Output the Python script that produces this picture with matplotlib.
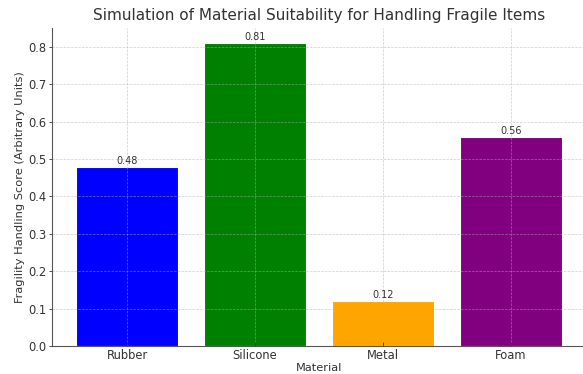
import matplotlib.pyplot as plt

materials = ['Rubber', 'Silicone', 'Metal', 'Foam']
scores = [0.48, 0.81, 0.12, 0.56]
colors = ['blue', 'green', 'orange', 'purple']

text_color = '#333333'
plt.rcParams['text.color'] = text_color
plt.rcParams['axes.labelcolor'] = text_color
plt.rcParams['xtick.color'] = text_color
plt.rcParams['ytick.color'] = text_color

fig = plt.figure(figsize=(5.83, 3.74), dpi=100)
ax = fig.add_axes([52 / 583, 28 / 374, 534 / 583, 318 / 374])

bars = ax.bar(materials, scores, color=colors, edgecolor='white', linewidth=0.8)
ax.set_axisbelow(False)
ax.grid(True, linestyle='--', linewidth=0.5, color='#b0b0b0', alpha=0.6)

for bar, s in zip(bars, scores):
    ax.text(bar.get_x() + bar.get_width() / 2, s + 0.002, f'{s:.2f}',
            ha='center', va='bottom', fontsize=7)

ax.set_title('Simulation of Material Suitability for Handling Fragile Items',
             fontsize=11, pad=6)
ax.set_xlabel('Material', fontsize=8.2, labelpad=1)
ax.set_ylabel('Fragility Handling Score (Arbitrary Units)', fontsize=8.2, labelpad=2)
ax.tick_params(labelsize=8.3, length=3, width=0.6)
ax.tick_params(axis='x', direction='in', pad=2)
ax.tick_params(axis='y', length=2, pad=2)
ax.spines['top'].set_visible(False)
ax.spines['right'].set_visible(False)
ax.spines['left'].set_color('#555555')
ax.spines['bottom'].set_color('#555555')

plt.savefig('out.png', dpi=100)
